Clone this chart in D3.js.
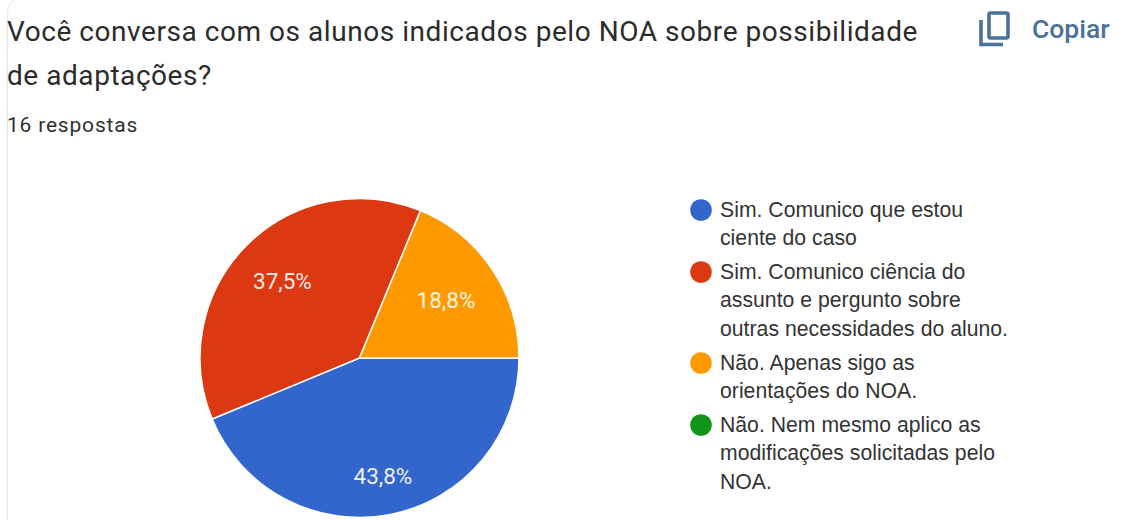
<!DOCTYPE html>
<html lang="pt-BR">
<head>
<meta charset="utf-8">
<title>Você conversa com os alunos indicados pelo NOA</title>
<script src="https://cdn.jsdelivr.net/npm/d3@7/dist/d3.min.js"></script>
<style>
html, body { margin: 0; padding: 0; background: #fff; }
svg { display: block; }
text { font-family: Roboto, "Liberation Sans", sans-serif; }
.legend text { font-family: "Liberation Sans", Arial, sans-serif; }
</style>
</head>
<body>
<svg id="chart" width="1129" height="520"></svg>
<script>
// Survey question and answers
const titleLines = [
  "Você conversa com os alunos indicados pelo NOA sobre possibilidade",
  "de adaptações?"
];
const subtitle = "16 respostas";
const copyLabel = "Copiar";

const answers = [
  ["Sim. Comunico que estou", "ciente do caso"],
  ["Sim. Comunico ciência do", "assunto e pergunto sobre", "outras necessidades do aluno."],
  ["Não. Apenas sigo as", "orientações do NOA."],
  ["Não. Nem mesmo aplico as", "modificações solicitadas pelo", "NOA."]
];
const responses = [7, 6, 3, 0];
const colors = ["#3366cc", "#dc3912", "#ff9900", "#109618"];

const svg = d3.select("#chart");

// Card edge along the left side
svg.append("path")
  .attr("d", "M7.5 520V14Q7.5 3 14 0")
  .attr("fill", "none")
  .attr("stroke", "#e6e6e6")
  .attr("stroke-width", 1);

// Heading
svg.append("g").selectAll("text")
  .data(titleLines)
  .join("text")
  .attr("x", 7)
  .attr("y", (d, i) => 41 + i * 43.5)
  .attr("font-size", 28)
  .attr("letter-spacing", 0.55)
  .attr("fill", "#2b2b2b")
  .text(d => d);

svg.append("text")
  .attr("x", 7)
  .attr("y", 132)
  .attr("font-size", 21)
  .attr("letter-spacing", 0.8)
  .attr("fill", "#303030")
  .text(subtitle);

// Copy button: two overlapping sheets and its label
const copyBlue = "#4a7199";
const copy = svg.append("g")
  .attr("fill", "none")
  .attr("stroke", copyBlue)
  .attr("stroke-width", 3.6);
copy.append("rect").attr("x", 989).attr("y", 13).attr("width", 19).attr("height", 25).attr("rx", 1.5);
copy.append("path").attr("d", "M981 20V44.5H1003");

svg.append("text")
  .attr("x", 1032)
  .attr("y", 38)
  .attr("font-size", 26.5)
  .attr("font-weight", 500)
  .attr("fill", copyBlue)
  .text(copyLabel);

// Pie, starting at three o'clock and running clockwise
const cx = 359.5, cy = 358, radius = 159.5;
const pie = d3.pie()
  .value(d => d)
  .sort(null)
  .startAngle(Math.PI / 2)
  .endAngle(Math.PI / 2 + 2 * Math.PI);
const slices = pie(responses);
const arc = d3.arc().innerRadius(0).outerRadius(radius);

const pieGroup = svg.append("g").attr("transform", `translate(${cx},${cy})`);
pieGroup.selectAll("path")
  .data(slices.filter(d => d.value > 0))
  .join("path")
  .attr("d", arc)
  .attr("fill", d => colors[d.index])
  .attr("stroke", "#fff")
  .attr("stroke-width", 1.5);

// Percentage labels use the Brazilian decimal comma; each sits at its own distance from the centre
const total = d3.sum(responses);
const pct = d3.formatLocale({ decimal: ",", thousands: ".", grouping: [3], currency: ["R$", ""] }).format(".1f");
const labelDistance = [120, 109, 104, 0];
pieGroup.selectAll("text")
  .data(slices.filter(d => d.value > 0))
  .join("text")
  .attr("transform", d => {
    const r = labelDistance[d.index];
    return `translate(${d3.arc().innerRadius(r).outerRadius(r).centroid(d)})`;
  })
  .attr("text-anchor", "middle")
  .attr("dy", "0.36em")
  .attr("font-family", "Liberation Sans, Arial, sans-serif")
  .attr("font-size", 22.5)
  .attr("fill", "#fff")
  .attr("fill-opacity", 0.92)
  .text(d => pct(d.value / total * 100) + "%");

// Legend: wrapped entries with a round swatch beside the first line
const legendX = 720, lineHeight = 28.4, entryTops = [217, 279, 370, 432];
const legend = svg.append("g").attr("class", "legend");
const entry = legend.selectAll("g")
  .data(answers)
  .join("g")
  .attr("transform", (d, i) => `translate(0,${entryTops[i]})`);
entry.append("circle")
  .attr("cx", 701)
  .attr("cy", -7)
  .attr("r", 10.8)
  .attr("fill", (d, i) => colors[i]);
entry.selectAll("text")
  .data(d => d)
  .join("text")
  .attr("x", legendX)
  .attr("y", (d, i) => i * lineHeight)
  .attr("font-size", 21.2)
  .attr("letter-spacing", 0.02)
  .attr("fill", "#333")
  .text(d => d);
</script>
</body>
</html>
